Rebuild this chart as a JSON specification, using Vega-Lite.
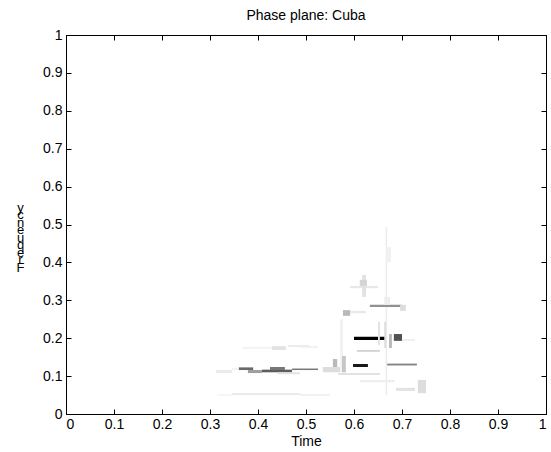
{
  "$schema": "https://vega.github.io/schema/vega-lite/v6.json",
  "width": 480,
  "height": 379,
  "autosize": {"type": "none"},
  "padding": {"left": 66, "top": 35, "right": 5, "bottom": 38},
  "background": "white",
  "title": {"text": "Phase plane: Cuba", "fontSize": 14, "font": "Liberation Sans", "fontWeight": "normal", "color": "black", "offset": 5, "anchor": "middle"},
  "data": {"values": [
    {"x1": 0.600, "x2": 0.667, "y1": 0.195, "y2": 0.204, "v": 1.0},
    {"x1": 0.683, "x2": 0.700, "y1": 0.193, "y2": 0.211, "v": 0.65},
    {"x1": 0.598, "x2": 0.629, "y1": 0.124, "y2": 0.132, "v": 0.92},
    {"x1": 0.669, "x2": 0.731, "y1": 0.128, "y2": 0.133, "v": 0.45},
    {"x1": 0.666, "x2": 0.669, "y1": 0.05, "y2": 0.493, "v": 0.07},
    {"x1": 0.633, "x2": 0.700, "y1": 0.282, "y2": 0.288, "v": 0.4},
    {"x1": 0.696, "x2": 0.708, "y1": 0.272, "y2": 0.288, "v": 0.12},
    {"x1": 0.592, "x2": 0.650, "y1": 0.332, "y2": 0.338, "v": 0.08},
    {"x1": 0.617, "x2": 0.625, "y1": 0.309, "y2": 0.367, "v": 0.1},
    {"x1": 0.612, "x2": 0.627, "y1": 0.338, "y2": 0.354, "v": 0.15},
    {"x1": 0.577, "x2": 0.592, "y1": 0.259, "y2": 0.274, "v": 0.25},
    {"x1": 0.592, "x2": 0.625, "y1": 0.266, "y2": 0.272, "v": 0.08},
    {"x1": 0.667, "x2": 0.677, "y1": 0.40, "y2": 0.44, "v": 0.05},
    {"x1": 0.663, "x2": 0.675, "y1": 0.288, "y2": 0.309, "v": 0.06},
    {"x1": 0.650, "x2": 0.654, "y1": 0.182, "y2": 0.243, "v": 0.1},
    {"x1": 0.663, "x2": 0.667, "y1": 0.174, "y2": 0.243, "v": 0.12},
    {"x1": 0.673, "x2": 0.679, "y1": 0.174, "y2": 0.211, "v": 0.25},
    {"x1": 0.700, "x2": 0.727, "y1": 0.193, "y2": 0.198, "v": 0.06},
    {"x1": 0.606, "x2": 0.654, "y1": 0.164, "y2": 0.169, "v": 0.15},
    {"x1": 0.571, "x2": 0.577, "y1": 0.11, "y2": 0.25, "v": 0.05},
    {"x1": 0.556, "x2": 0.565, "y1": 0.113, "y2": 0.145, "v": 0.25},
    {"x1": 0.575, "x2": 0.583, "y1": 0.11, "y2": 0.153, "v": 0.2},
    {"x1": 0.535, "x2": 0.571, "y1": 0.11, "y2": 0.124, "v": 0.12},
    {"x1": 0.567, "x2": 0.654, "y1": 0.103, "y2": 0.108, "v": 0.1},
    {"x1": 0.360, "x2": 0.390, "y1": 0.116, "y2": 0.123, "v": 0.55},
    {"x1": 0.379, "x2": 0.408, "y1": 0.108, "y2": 0.116, "v": 0.35},
    {"x1": 0.408, "x2": 0.471, "y1": 0.110, "y2": 0.117, "v": 0.6},
    {"x1": 0.425, "x2": 0.456, "y1": 0.116, "y2": 0.124, "v": 0.5},
    {"x1": 0.471, "x2": 0.525, "y1": 0.116, "y2": 0.120, "v": 0.5},
    {"x1": 0.3125, "x2": 0.346, "y1": 0.108, "y2": 0.116, "v": 0.07},
    {"x1": 0.346, "x2": 0.360, "y1": 0.116, "y2": 0.121, "v": 0.05},
    {"x1": 0.440, "x2": 0.4875, "y1": 0.105, "y2": 0.110, "v": 0.1},
    {"x1": 0.367, "x2": 0.429, "y1": 0.172, "y2": 0.177, "v": 0.04},
    {"x1": 0.429, "x2": 0.458, "y1": 0.169, "y2": 0.179, "v": 0.1},
    {"x1": 0.4625, "x2": 0.508, "y1": 0.177, "y2": 0.182, "v": 0.07},
    {"x1": 0.4875, "x2": 0.525, "y1": 0.174, "y2": 0.179, "v": 0.05},
    {"x1": 0.346, "x2": 0.4875, "y1": 0.050, "y2": 0.055, "v": 0.08},
    {"x1": 0.4875, "x2": 0.550, "y1": 0.0475, "y2": 0.053, "v": 0.05},
    {"x1": 0.315, "x2": 0.346, "y1": 0.0475, "y2": 0.053, "v": 0.03},
    {"x1": 0.6875, "x2": 0.727, "y1": 0.061, "y2": 0.069, "v": 0.1},
    {"x1": 0.733, "x2": 0.750, "y1": 0.055, "y2": 0.090, "v": 0.12},
    {"x1": 0.6125, "x2": 0.685, "y1": 0.084, "y2": 0.090, "v": 0.06}
  ]},
  "layer": [
    {
      "mark": {"type": "rect"},
      "encoding": {
        "x": {"field": "x1", "type": "quantitative", "scale": {"domain": [0, 1], "nice": false},
          "axis": {"orient": "bottom", "title": "Time", "values": [0,0.1,0.2,0.3,0.4,0.5,0.6,0.7,0.8,0.9,1], "format": ".1~f", "grid": false, "tickSize": -5, "labelPadding": 8, "titlePadding": 3}},
        "x2": {"field": "x2"},
        "y": {"field": "y1", "type": "quantitative", "scale": {"domain": [0, 1], "nice": false},
          "axis": {"orient": "left", "title": ["y","c","n","e","u","q","e","r","F"], "titleAngle": 0, "titleX": -46, "titleY": 166, "titleAlign": "center", "titleBaseline": "top", "titleLineHeight": 7.5, "titleFontSize": 13, "values": [0,0.1,0.2,0.3,0.4,0.5,0.6,0.7,0.8,0.9,1], "format": ".1~f", "grid": false, "tickSize": -5, "labelPadding": 9}},
        "y2": {"field": "y2"},
        "color": {"field": "v", "type": "quantitative", "scale": {"domain": [0, 1], "range": ["#ffffff", "#000000"]}, "legend": null}
      }
    },
    {
      "mark": {"type": "rect", "opacity": 0},
      "encoding": {
        "x": {"field": "x1", "type": "quantitative", "axis": {"orient": "top", "title": null, "labels": false, "values": [0,0.1,0.2,0.3,0.4,0.5,0.6,0.7,0.8,0.9,1], "grid": false, "tickSize": -5}},
        "y": {"field": "y1", "type": "quantitative", "axis": {"orient": "right", "title": null, "labels": false, "values": [0,0.1,0.2,0.3,0.4,0.5,0.6,0.7,0.8,0.9,1], "grid": false, "tickSize": -5}}
      }
    }
  ],
  "resolve": {"axis": {"x": "independent", "y": "independent"}},
  "config": {
    "view": {"stroke": "black", "strokeWidth": 1},
    "axis": {"domainColor": "black", "tickColor": "black", "labelColor": "black", "titleColor": "black", "labelFont": "Liberation Sans", "titleFont": "Liberation Sans", "labelFontSize": 14, "titleFontSize": 14, "titleFontWeight": "normal", "domainWidth": 1, "tickWidth": 1}
  }
}
